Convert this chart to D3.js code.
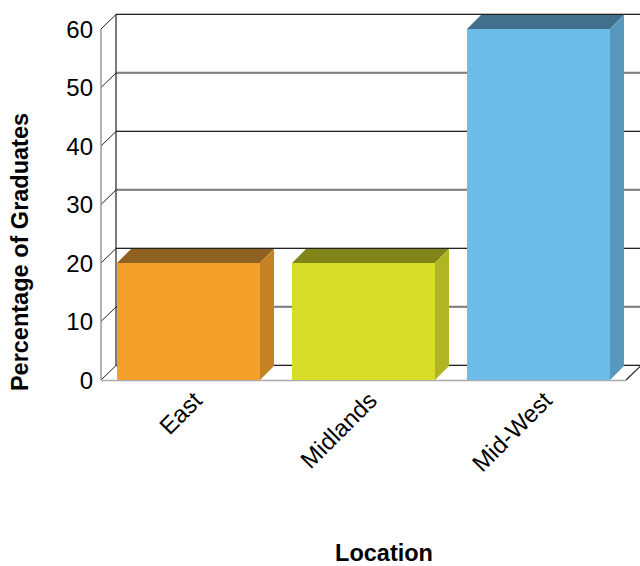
<!DOCTYPE html>
<html><head><meta charset="utf-8">
<script src="https://cdn.jsdelivr.net/npm/d3@7"></script>
<style>body{margin:0;background:#fff}svg{display:block}text{font-family:Arial,"Liberation Sans",sans-serif}</style>
</head><body><svg id="c" width="640" height="566"></svg>
<script>
const categories = ["East", "Midlands", "Mid-West"];
const values = [20, 20, 60];
const yTicks = [0, 10, 20, 30, 40, 50, 60];
const frontColors = ["#F4A12C", "#D7DE27", "#6CBDE8"];
const topColors = ["#8F6221", "#818519", "#42708C"];
const sideColors = ["#C58325", "#B0B523", "#5898BD"];
const yTitle = "Percentage of Graduates";
const xTitle = "Location";

const svg = d3.select("#c");
const L = 101, R = 626, B = 380, T = 29;
const DX = 15, DY = -14.5;   // wall depth
const BDX = 14, BDY = -14;   // bar depth
const y = d3.scaleLinear().domain([0, 60]).range([B, T]);
const x = d3.scaleBand().domain(categories).range([L, R]).paddingInner(0.183).paddingOuter(0.0915);

// back gridlines
const g = svg.append("g");
yTicks.forEach(t => {
  g.append("line").attr("x1", L + DX).attr("x2", R + DX).attr("y1", y(t) + DY - 1).attr("y2", y(t) + DY - 1)
    .attr("stroke", "#bbb").attr("stroke-width", 1);
  g.append("line").attr("x1", L + DX).attr("x2", R + DX + 20).attr("y1", y(t) + DY).attr("y2", y(t) + DY)
    .attr("stroke", "#222").attr("stroke-width", 1.2);
  g.append("line").attr("x1", L).attr("x2", L + DX).attr("y1", y(t)).attr("y2", y(t) + DY)
    .attr("stroke", "#222").attr("stroke-width", 1);
});
// back vertical of left wall
g.append("line").attr("x1", L + DX).attr("x2", L + DX).attr("y1", y(60) + DY).attr("y2", y(0) + DY)
  .attr("stroke", "#222").attr("stroke-width", 1.2);
// front vertical of left wall
g.append("line").attr("x1", L).attr("x2", L).attr("y1", y(60)).attr("y2", y(0))
  .attr("stroke", "#999").attr("stroke-width", 1.5);
// floor
g.append("line").attr("x1", R).attr("x2", R + DX).attr("y1", y(0)).attr("y2", y(0) + DY)
  .attr("stroke", "#222").attr("stroke-width", 1.2);
g.append("line").attr("x1", L).attr("x2", R).attr("y1", y(0) + 0.5).attr("y2", y(0) + 0.5)
  .attr("stroke", "#aaa").attr("stroke-width", 1.5);

// bars
const bars = svg.append("g").selectAll("g").data(categories).join("g");
bars.append("rect")
  .attr("x", d => x(d)).attr("y", (d, i) => y(values[i]))
  .attr("width", x.bandwidth()).attr("height", (d, i) => y(0) - y(values[i]))
  .attr("fill", (d, i) => frontColors[i]);
bars.append("path")
  .attr("d", (d, i) => {
    const x0 = x(d), x1 = x(d) + x.bandwidth(), yt = y(values[i]);
    return `M${x0},${yt}L${x0 + BDX},${yt + BDY}L${x1 + BDX},${yt + BDY}L${x1},${yt}Z`;
  })
  .attr("fill", (d, i) => topColors[i]);
bars.append("path")
  .attr("d", (d, i) => {
    const x1 = x(d) + x.bandwidth(), yt = y(values[i]), yb = y(0);
    return `M${x1},${yt}L${x1 + BDX},${yt + BDY}L${x1 + BDX},${yb + BDY}L${x1},${yb}Z`;
  })
  .attr("fill", (d, i) => sideColors[i]);

// y tick labels
svg.append("g").selectAll("text").data(yTicks).join("text")
  .attr("x", 93).attr("y", d => y(d)).attr("dy", "0.36em")
  .attr("text-anchor", "end").attr("font-size", 24).attr("fill", "#000")
  .text(d => d);

// category labels
svg.append("g").selectAll("text").data(categories).join("text")
  .attr("transform", d => `translate(${x(d) + x.bandwidth() / 2 + 15},${402}) rotate(-45)`)
  .attr("text-anchor", "end").attr("font-size", 24).attr("fill", "#000")
  .text(d => d);

// titles
svg.append("text").attr("transform", "translate(28,252) rotate(-90)")
  .attr("text-anchor", "middle").attr("font-size", 23.5).attr("font-weight", "bold").text(yTitle);
svg.append("text").attr("x", 384).attr("y", 561)
  .attr("text-anchor", "middle").attr("font-size", 23.5).attr("font-weight", "bold").text(xTitle);
</script></body></html>
